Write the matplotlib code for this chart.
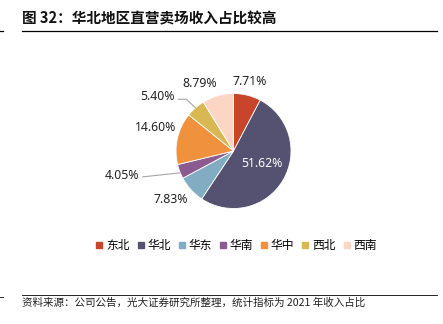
import matplotlib.pyplot as plt
from matplotlib.lines import Line2D

plt.rcParams['font.family'] = ['Noto Sans CJK SC', 'DejaVu Sans']

regions = ['东北', '华北', '华东', '华南', '华中', '西北', '西南']
shares = [7.71, 51.62, 7.83, 4.05, 14.60, 5.40, 8.79]
colors = ['#C8442A', '#545270', '#82ACC2', '#8B5A8F', '#F0913D', '#D9B853', '#FDD5C5']

title = '图 32：华北地区直营卖场收入占比较高'
source = '资料来源：公司公告，光大证券研究所整理，统计指标为 2021 年收入占比'

# label centres in pie units (radius = 1)
label_pos = [(0.29, 1.20), (0.50, -0.21), (-1.10, -0.85), (-1.94, -0.42),
             (-1.35, 0.40), (-1.32, 0.94), (-0.58, 1.17)]

W, H = 443, 324
cx, cy, R = 233.5, 151, 57.5

fig = plt.figure(figsize=(W / 100, H / 100), dpi=100)
ax = fig.add_axes([0, 0, 1, 1])
wedges, _ = ax.pie(shares, colors=colors, startangle=90, counterclock=False,
                   radius=1, wedgeprops=dict(linewidth=0.6, edgecolor='white'))
ax.set_xlim(-cx / R, (W - cx) / R)
ax.set_ylim(-(H - cy) / R, cy / R)
ax.axis('off')

for i, (v, (x, y)) in enumerate(zip(shares, label_pos)):
    ax.text(x, y, f'{v:.2f}%', ha='center', va='center', fontsize=8.8,
            family=['Noto Sans', 'DejaVu Sans'],
            color='white' if i == 1 else '#222222')

# leader lines for the small slices
ax.plot([-0.96, -0.82, -0.66], [0.90, 0.90, 0.75], color='#A6A6A6', lw=0.8)
ax.plot([-1.58, -0.93], [-0.45, -0.38], color='#A6A6A6', lw=0.8)

# title, rules and source
fig.text(22 / W, 1 - 18.5 / H, title, fontsize=10.5, fontweight='bold',
         ha='left', va='center', color='#111111')
fig.add_artist(Line2D([22 / W, 437 / W], [1 - 31 / H] * 2, color='black', lw=0.9))
fig.add_artist(Line2D([0, 3 / W], [1 - 31 / H] * 2, color='black', lw=0.9))
fig.add_artist(Line2D([22 / W, 437 / W], [1 - 295 / H] * 2, color='black', lw=0.6))
fig.add_artist(Line2D([0, 3 / W], [1 - 297 / H] * 2, color='black', lw=0.6))
fig.text(22 / W, 1 - 302.5 / H, source, fontsize=7.6, ha='left', va='center',
         color='#222222')

handles = [Line2D([], [], marker='s', linestyle='', markersize=4.5,
                  markerfacecolor=c, markeredgecolor=c) for c in colors]
fig.legend(handles, regions, loc='center', ncol=7, frameon=False,
           bbox_to_anchor=(236 / W, 1 - 246 / H), fontsize=8.5,
           handlelength=0.7, handletextpad=0.2, columnspacing=0.6)

fig.savefig('out.png', dpi=100)
